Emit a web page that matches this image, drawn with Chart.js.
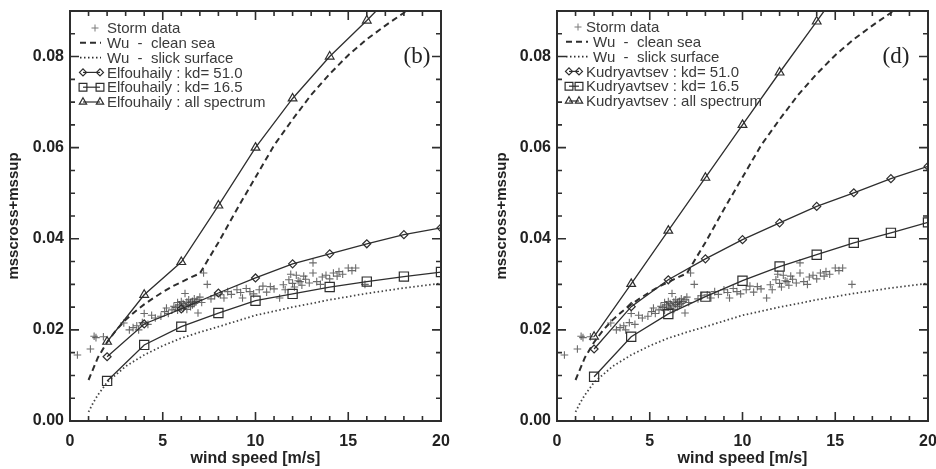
<!DOCTYPE html>
<html>
<head>
<meta charset="utf-8">
<script src="https://cdn.jsdelivr.net/npm/chart.js@4.4.0/dist/chart.umd.min.js"></script>
<style>
  body { margin: 0; background: #fff; }
  #wrap { position: relative; width: 936px; height: 469px; overflow: hidden; }
  #wrap canvas { position: absolute; top: 0; }
</style>
</head>
<body>
<div id="wrap">
  <canvas id="chartB" width="468" height="469" style="left:0px"></canvas>
  <canvas id="chartD" width="468" height="469" style="left:468px"></canvas>
</div>
<script>
// axis ticks
var xTickValues = [0, 5, 10, 15, 20];
var yTickValues = [0.00, 0.02, 0.04, 0.06, 0.08];

// wind speed of the model markers
var modelSpeed = [2, 4, 6, 8, 10, 12, 14, 16, 18, 20];

// Elfouhaily (panel b)
var elfKd51 = [0.0141, 0.0213, 0.0246, 0.0281, 0.0314, 0.0345, 0.0367, 0.0389, 0.0409, 0.0424];
var elfKd16 = [0.0088, 0.0167, 0.0207, 0.0237, 0.0264, 0.0279, 0.0294, 0.0306, 0.0317, 0.0327];
var elfAllSpeed = [2, 4, 6, 8, 10, 12, 14, 16, 16.5];
var elfAll = [0.0174, 0.0277, 0.0349, 0.0473, 0.0600, 0.0708, 0.0800, 0.0879, 0.0900];

// Kudryavtsev (panel d)
var kudKd51 = [0.0158, 0.0251, 0.0310, 0.0356, 0.0398, 0.0435, 0.0471, 0.0501, 0.0532, 0.0559];
var kudKd16 = [0.0097, 0.0185, 0.0235, 0.0273, 0.0308, 0.0339, 0.0365, 0.0391, 0.0413, 0.0436];
var kudAllSpeed = [2, 4, 6, 8, 10, 12, 14, 14.4];
var kudAll = [0.0185, 0.0301, 0.0418, 0.0534, 0.0650, 0.0765, 0.0877, 0.0900];

// Wu curves
var wuCleanSpeed = [1, 1.5, 2, 2.5, 3, 3.5, 4, 4.5, 5, 5.5, 6, 6.5, 7, 8, 9, 10, 11, 12, 13, 14, 15, 16, 17, 18, 18.1];
var wuClean = [0.0090, 0.0139, 0.0173, 0.0200, 0.0222, 0.0240, 0.0256, 0.0270, 0.0283, 0.0295, 0.0305, 0.0315, 0.0324,
               0.0392, 0.0465, 0.0535, 0.0605, 0.0662, 0.0716, 0.0762, 0.0803, 0.0838, 0.0868, 0.0896, 0.0900];
var wuSlickSpeed = [1, 1.25, 1.5, 2, 3, 4, 5, 6, 7, 8, 10, 12, 14, 16, 18, 20];
var wuSlick = [0.0020, 0.0040, 0.0057, 0.0085, 0.0120, 0.0145, 0.0165, 0.0182, 0.0195, 0.0207,
               0.0232, 0.0250, 0.0266, 0.0280, 0.0292, 0.0302];

// storm data
var stormSpeed = [0.4, 1.1, 1.3, 1.4, 1.8, 2.9, 3.2, 3.4, 3.6, 3.7, 3.9, 4.0, 4.2, 4.4, 4.6, 4.9, 5.1, 5.2, 5.3, 5.5,
                  5.6, 5.7, 5.8, 5.8, 5.9, 6.0, 6.0, 6.1, 6.1, 6.2, 6.2, 6.3, 6.3, 6.4, 6.4, 6.5, 6.5, 6.6, 6.6, 6.7,
                  6.7, 6.8, 6.9, 6.9, 7.0, 7.1, 7.2, 7.4, 7.6, 7.8, 8.1, 8.3, 8.5, 8.7, 9.0, 9.2, 9.3, 9.5, 9.7, 9.9,
                  10.2, 10.4, 10.6, 10.8, 11.0, 11.3, 11.5, 11.6, 11.8, 11.9, 12.0, 12.1, 12.2, 12.3, 12.4, 12.5, 12.6, 12.7, 12.9, 13.1,
                  13.1, 13.3, 13.5, 13.6, 13.8, 14.0, 14.2, 14.4, 14.5, 14.7, 15.0, 15.2, 15.4, 15.9];
var stormMss = [0.0145, 0.0158, 0.0186, 0.0183, 0.0185, 0.0215, 0.0200, 0.0205, 0.0209, 0.0200, 0.0216, 0.0236, 0.0212, 0.0232, 0.0226, 0.0230, 0.0240, 0.0248, 0.0236, 0.0244,
                0.0252, 0.0249, 0.0260, 0.0243, 0.0255, 0.0250, 0.0262, 0.0247, 0.0258, 0.0280, 0.0253, 0.0261, 0.0245, 0.0256, 0.0266, 0.0251, 0.0260, 0.0263, 0.0255, 0.0258,
                0.0268, 0.0262, 0.0237, 0.0266, 0.0272, 0.0260, 0.0325, 0.0300, 0.0268, 0.0275, 0.0277, 0.0270, 0.0284, 0.0278, 0.0288, 0.0282, 0.0270, 0.0291, 0.0284, 0.0279,
                0.0288, 0.0296, 0.0283, 0.0295, 0.0290, 0.0270, 0.0299, 0.0288, 0.0310, 0.0322, 0.0302, 0.0294, 0.0320, 0.0308, 0.0306, 0.0298, 0.0318, 0.0311, 0.0303, 0.0347,
                0.0325, 0.0306, 0.0300, 0.0316, 0.0320, 0.0312, 0.0325, 0.0318, 0.0328, 0.0322, 0.0336, 0.0330, 0.0336, 0.0300];

var legendB = ['Storm data', 'Wu  -  clean sea', 'Wu  -  slick surface',
               'Elfouhaily : kd= 51.0', 'Elfouhaily : kd= 16.5', 'Elfouhaily : all spectrum'];
var legendD = ['Storm data', 'Wu  -  clean sea', 'Wu  -  slick surface',
               'Kudryavtsev : kd= 51.0', 'Kudryavtsev : kd= 16.5', 'Kudryavtsev : all spectrum'];

var ink = '#2e2e2e';
var sans = "'Liberation Sans', Arial, sans-serif";

function pairs(xs, ys) {
  var out = [];
  for (var i = 0; i < xs.length; i++) out.push({x: xs[i], y: ys[i]});
  return out;
}

// markers only on the real model points, not on the clip-edge point
function markerRadius(r) {
  return function(c) { return Number.isInteger(c.raw.x) ? r : 0; };
}

var framePlugin = {
  id: 'frame',
  afterDraw: function(chart, args, opts) {
    var ctx = chart.ctx, a = chart.chartArea;
    var xs = chart.scales.x, ys = chart.scales.y;
    ctx.save();
    ctx.strokeStyle = ink;
    ctx.lineWidth = 2;
    ctx.strokeRect(a.left, a.top, a.right - a.left, a.bottom - a.top);

    // IDL style ticks on all four sides, pointing inwards
    ctx.lineWidth = 1.6;
    ctx.beginPath();
    for (var i = 0; i <= 20; i++) {
      var px = xs.getPixelForValue(i);
      var len = i % 5 == 0 ? 9 : 5;
      ctx.moveTo(px, a.bottom); ctx.lineTo(px, a.bottom - len);
      ctx.moveTo(px, a.top); ctx.lineTo(px, a.top + len);
    }
    for (var j = 0; j <= 18; j++) {
      var py = ys.getPixelForValue(j * 0.005);
      var ylen = j % 4 == 0 ? 9 : 5;
      ctx.moveTo(a.left, py); ctx.lineTo(a.left + ylen, py);
      ctx.moveTo(a.right, py); ctx.lineTo(a.right - ylen, py);
    }
    ctx.stroke();

    // panel label
    ctx.fillStyle = '#222';
    ctx.font = "23px 'Liberation Serif', 'Times New Roman', serif";
    ctx.textAlign = 'center';
    ctx.textBaseline = 'middle';
    ctx.fillText(opts.label, a.right - opts.labelRight, ys.getPixelForValue(0.08));

    // legend
    var L = opts.legend;
    ctx.font = '15px ' + sans;
    ctx.textAlign = 'left';
    for (var k = 0; k < opts.rows.length; k++) {
      var y = a.top + L.top + k * L.step;
      var kind = L.kinds[k];
      var x0 = a.left + L.from, x1 = a.left + (kind == 'cross' || kind == 'dash' || kind == 'dot' ? L.lineTo : L.markTo);
      var tx = a.left + (kind == 'cross' ? L.crossText : (kind == 'dash' || kind == 'dot') ? L.lineText : L.markText);
      ctx.setLineDash([]);
      ctx.strokeStyle = ink;
      ctx.fillStyle = 'rgba(0,0,0,0)';
      if (kind == 'cross') {
        ctx.strokeStyle = '#7a7a7a';
        ctx.lineWidth = 1;
        Chart.helpers.drawPoint(ctx, {pointStyle: 'cross', radius: 3.5, borderWidth: 1}, a.left + L.crossX, y);
      } else if (kind == 'dash' || kind == 'dot') {
        ctx.lineWidth = kind == 'dash' ? 2 : 1.6;
        ctx.setLineDash(kind == 'dash' ? [6, 4] : [1.5, 2.5]);
        ctx.beginPath(); ctx.moveTo(x0, y); ctx.lineTo(x1, y); ctx.stroke();
        ctx.setLineDash([]);
      } else {
        var st = L.styles[kind];
        ctx.lineWidth = 1.2;
        ctx.beginPath(); ctx.moveTo(x0 + 3, y); ctx.lineTo(x1 - 3, y); ctx.stroke();
        Chart.helpers.drawPoint(ctx, {pointStyle: st.style, radius: st.r, borderWidth: 1.2}, x0 + 3, y);
        Chart.helpers.drawPoint(ctx, {pointStyle: st.style, radius: st.r, borderWidth: 1.2}, x1 - 3, y);
      }
      ctx.fillStyle = '#3a3a3a';
      ctx.fillText(opts.rows[k], tx, y + 1);
    }
    ctx.restore();
  }
};

function makePanel(canvasId, kd51, kd16, allSpeed, all, legendRows, opts) {
  var ctx = document.getElementById(canvasId).getContext('2d');
  return new Chart(ctx, {
    type: 'scatter',
    data: {
      datasets: [
        {
          label: legendRows[3],
          data: pairs(modelSpeed, kd51),
          showLine: true,
          borderColor: ink,
          borderWidth: 1.3,
          pointStyle: 'rectRot',
          pointRadius: 4,
          pointBorderWidth: 1.2,
          pointBackgroundColor: 'rgba(0,0,0,0)',
          pointBorderColor: ink
        },
        {
          label: legendRows[4],
          data: pairs(modelSpeed, kd16),
          showLine: true,
          borderColor: ink,
          borderWidth: 1.3,
          pointStyle: 'rect',
          pointRadius: 6.5,
          pointBorderWidth: 1.2,
          pointBackgroundColor: 'rgba(0,0,0,0)',
          pointBorderColor: ink
        },
        {
          label: legendRows[5],
          data: pairs(allSpeed, all),
          showLine: true,
          borderColor: ink,
          borderWidth: 1.3,
          pointStyle: 'triangle',
          pointRadius: markerRadius(5),
          pointBorderWidth: 1.2,
          pointBackgroundColor: 'rgba(0,0,0,0)',
          pointBorderColor: ink
        },
        {
          label: legendRows[1],
          data: pairs(wuCleanSpeed, wuClean),
          showLine: true,
          borderColor: ink,
          borderWidth: 2,
          borderDash: [6, 4],
          pointRadius: 0
        },
        {
          label: legendRows[2],
          data: pairs(wuSlickSpeed, wuSlick),
          showLine: true,
          borderColor: '#444',
          borderWidth: 1.8,
          borderDash: [1.5, 2.5],
          pointRadius: 0
        },
        {
          label: legendRows[0],
          data: pairs(stormSpeed, stormMss),
          pointStyle: 'cross',
          pointRadius: 3.8,
          pointBorderWidth: 1.1,
          pointBorderColor: 'rgba(70,70,70,0.8)',
          showLine: false
        }
      ]
    },
    options: {
      responsive: false,
      animation: false,
      layout: { padding: { left: 0, top: 11, right: opts.padRight, bottom: 0 } },
      plugins: {
        legend: { display: false },
        tooltip: { enabled: false },
        frame: opts.frame
      },
      scales: {
        x: {
          type: 'linear',
          min: 0,
          max: 20,
          grid: { display: false, drawTicks: false },
          border: { display: false },
          afterBuildTicks: function(s) { s.ticks = xTickValues.map(function(v) { return {value: v}; }); },
          afterFit: function(s) { s.height = 48; s.paddingLeft = 0; s.paddingRight = 0; },
          ticks: { color: '#222', padding: 11, font: { family: sans, size: 16, weight: 'bold' }, maxRotation: 0 },
          title: { display: true, text: 'wind speed [m/s]', color: '#222', padding: { top: 0, bottom: 1 },
                   font: { family: sans, size: 16, weight: 'bold' } }
        },
        y: {
          type: 'linear',
          min: 0,
          max: 0.09,
          grid: { display: false, drawTicks: false },
          border: { display: false },
          afterBuildTicks: function(s) { s.ticks = yTickValues.map(function(v) { return {value: v}; }); },
          afterFit: function(s) { s.width = opts.yWidth; s.paddingTop = 0; s.paddingBottom = 0; },
          ticks: { color: '#222', padding: 6, font: { family: sans, size: 16, weight: 'bold' },
                   callback: function(v) { return v.toFixed(2); } },
          title: { display: true, text: 'msscross+mssup', color: '#222', padding: { top: opts.titlePad, bottom: 0 },
                   font: { family: sans, size: 15, weight: 'bold' } }
        }
      }
    },
    plugins: [framePlugin]
  });
}

var kinds = ['cross', 'dash', 'dot', 'diamond', 'square', 'triangle'];
var markStyles = {
  diamond: {style: 'rectRot', r: 3.5},
  square: {style: 'rect', r: 5.5},
  triangle: {style: 'triangle', r: 4.2}
};

makePanel('chartB', elfKd51, elfKd16, elfAllSpeed, elfAll, legendB, {
  yWidth: 70, padRight: 27, titlePad: 5,
  frame: {
    rows: legendB, label: '(b)', labelRight: 24,
    legend: { top: 17, step: 14.8, kinds: kinds, styles: markStyles,
              from: 10, lineTo: 31, markTo: 33, crossX: 25, crossText: 37, lineText: 37, markText: 37 }
  }
});

makePanel('chartD', kudKd51, kudKd16, kudAllSpeed, kudAll, legendD, {
  yWidth: 89, padRight: 8, titlePad: 25,
  frame: {
    rows: legendD, label: '(d)', labelRight: 32,
    legend: { top: 16, step: 14.8, kinds: kinds, styles: markStyles,
              from: 9, lineTo: 31, markTo: 25, crossX: 21, crossText: 29, lineText: 36, markText: 29 }
  }
});
</script>
</body>
</html>
